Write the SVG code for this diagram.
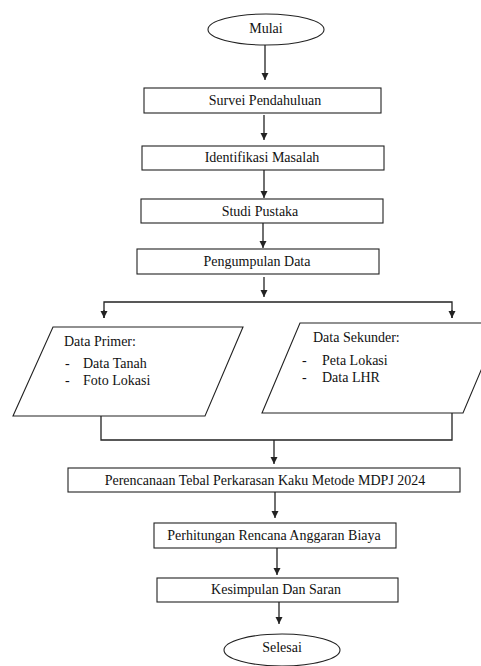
<svg xmlns="http://www.w3.org/2000/svg" width="481" height="666" viewBox="0 0 481 666">
<style>
.box{fill:#fff;stroke:#222;stroke-width:1.1}
.ln{fill:none;stroke:#222;stroke-width:1.3}
text{font-family:'Liberation Serif','DejaVu Serif',serif;font-size:14px;fill:#111}
.c{text-anchor:middle}
</style>
<defs>
<marker id="ah" markerWidth="8" markerHeight="8" refX="7" refY="3.5" orient="auto" markerUnits="userSpaceOnUse">
<path d="M0,0 L7,3.5 L0,7 Z" fill="#222"/>
</marker>
</defs>
<rect width="481" height="666" fill="#fff"/>
<g id="connectors">
<line class="ln" x1="265" y1="45" x2="265" y2="80" marker-end="url(#ah)"/>
<line class="ln" x1="264" y1="115" x2="264" y2="140" marker-end="url(#ah)"/>
<line class="ln" x1="264" y1="170" x2="264" y2="198" marker-end="url(#ah)"/>
<line class="ln" x1="263" y1="223" x2="263" y2="248" marker-end="url(#ah)"/>
<line class="ln" x1="264" y1="277" x2="264" y2="297" marker-end="url(#ah)"/>
<polyline class="ln" points="104,318 104,302 452,302 452,318"/>
<line class="ln" x1="104" y1="310" x2="104" y2="318" marker-end="url(#ah)"/>
<line class="ln" x1="452" y1="310" x2="452" y2="318" marker-end="url(#ah)"/>
<polyline class="ln" points="101,416 101,440 452,440 452,413"/>
<line class="ln" x1="274" y1="440" x2="274" y2="464" marker-end="url(#ah)"/>
<line class="ln" x1="275" y1="492" x2="275" y2="518" marker-end="url(#ah)"/>
<line class="ln" x1="277" y1="548" x2="277" y2="575" marker-end="url(#ah)"/>
<line class="ln" x1="279" y1="602" x2="279" y2="624" marker-end="url(#ah)"/>
</g>
<g id="mulai">
<ellipse class="box" cx="266" cy="29.5" rx="58" ry="15.5"/>
<text class="c" x="266" y="33">Mulai</text>
</g>
<g id="survei">
<rect class="box" x="144" y="88" width="237" height="25"/>
<text class="c" x="265" y="105">Survei Pendahuluan</text>
</g>
<g id="identifikasi">
<rect class="box" x="142" y="146" width="242" height="24"/>
<text class="c" x="262" y="162">Identifikasi Masalah</text>
</g>
<g id="studi">
<rect class="box" x="141" y="199" width="242" height="24"/>
<text class="c" x="260" y="216">Studi Pustaka</text>
</g>
<g id="pengumpulan">
<rect class="box" x="137" y="249" width="242" height="25"/>
<text class="c" x="257" y="266">Pengumpulan Data</text>
</g>
<g id="primer">
<polygon class="box" points="53,327 243,327 205,416 13,416"/>
<text x="64" y="346">Data Primer:</text>
<text x="65" y="368">-</text>
<text x="83" y="368">Data Tanah</text>
<text x="65" y="385">-</text>
<text x="83" y="385">Foto Lokasi</text>
</g>
<g id="sekunder">
<polygon class="box" points="300,323 501,323 463,413 262,413"/>
<text x="313" y="342">Data Sekunder:</text>
<text x="302" y="365">-</text>
<text x="322" y="365">Peta Lokasi</text>
<text x="302" y="382">-</text>
<text x="322" y="382">Data LHR</text>
</g>
<g id="perencanaan">
<rect class="box" x="68" y="468" width="392" height="24"/>
<text class="c" x="265" y="485">Perencanaan Tebal Perkarasan Kaku Metode MDPJ 2024</text>
</g>
<g id="perhitungan">
<rect class="box" x="154" y="523" width="242" height="25"/>
<text class="c" x="274" y="540">Perhitungan Rencana Anggaran Biaya</text>
</g>
<g id="kesimpulan">
<rect class="box" x="157" y="578" width="241" height="24"/>
<text class="c" x="276" y="594">Kesimpulan Dan Saran</text>
</g>
<g id="selesai">
<ellipse class="box" cx="282" cy="650" rx="58" ry="16"/>
<text class="c" x="282" y="652">Selesai</text>
</g>
</svg>
